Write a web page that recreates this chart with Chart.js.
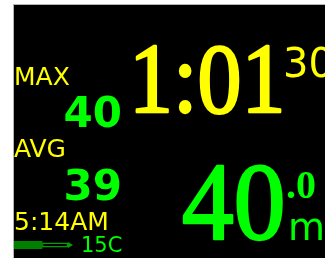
<!DOCTYPE html>
<html>
<head>
<meta charset="utf-8">
<script src="https://cdn.jsdelivr.net/npm/chart.js@4"></script>
<style>
  html, body { margin: 0; padding: 0; background: #fff; }
  canvas { display: block; }
</style>
</head>
<body>
<canvas id="dive" width="325" height="258"></canvas>
<script>
const statLabels = ['MAX', 'AVG'];
const statDepths = ['40', '39'];
const diveTime = ['1:01', '30'];
const depthNow = ['40', '.0', 'm'];
const clockText = '5:14AM';
const waterTemp = '15C';
const tankLabels = ['gas'];
const tankUsed = [52];
const tankLeft = [48];

const YELLOW = '#ffff00';
const GREEN = '#00ff00';

// big serif digits: squeezed a bit and thickened with a stroke
function bigText(c, text, x, y, sx, color) {
  c.save();
  c.translate(x, y);
  c.scale(sx, 1);
  c.fillStyle = color;
  c.strokeStyle = color;
  c.lineWidth = 2.5;
  c.lineJoin = 'round';
  c.fillText(text, 0, 0);
  c.strokeText(text, 0, 0);
  c.restore();
}

const screenPlugin = {
  id: 'screen',
  beforeDraw(chart) {
    const c = chart.ctx;
    c.save();
    c.fillStyle = '#fff';
    c.fillRect(0, 0, 325, 258);
    c.fillStyle = '#b4b4b4';
    c.fillRect(13, 4, 312, 254);
    c.fillStyle = '#000';
    c.fillRect(14, 5, 311, 253);
    c.restore();
  },
  afterDatasetsDraw(chart) {
    // arrow tip at the end of the tank gauge
    const c = chart.ctx;
    const x = chart.scales.x.getPixelForValue(100);
    const y = chart.scales.y.getPixelForValue(0);
    c.save();
    c.fillStyle = '#00a000';
    c.beginPath();
    c.moveTo(x, y - 3);
    c.lineTo(x + 5, y);
    c.lineTo(x, y + 3);
    c.closePath();
    c.fill();
    c.restore();
  },
  afterDraw(chart) {
    const c = chart.ctx;
    c.save();
    c.textBaseline = 'alphabetic';

    // left column
    c.textAlign = 'left';
    c.fillStyle = YELLOW;
    c.font = '25px "DejaVu Sans"';
    c.fillText(statLabels[0], 14, 85);
    c.fillText(statLabels[1], 14, 157);
    c.fillText(clockText, 14, 230);

    c.fillStyle = GREEN;
    c.font = 'bold 42px "DejaVu Sans"';
    c.textAlign = 'right';
    c.fillText(statDepths[0], 122, 127);
    c.fillText(statDepths[1], 122, 200);
    c.textAlign = 'left';
    c.font = '21px "DejaVu Sans"';
    c.fillText(waterTemp, 81, 252);

    // dive time
    c.font = '100px "Liberation Serif"';
    bigText(c, diveTime[0], 129, 112, 0.88, YELLOW);
    c.fillStyle = YELLOW;
    c.font = '40px "DejaVu Sans"';
    c.fillText(diveTime[1], 283, 77);

    // current depth
    c.font = '110px "Liberation Serif"';
    bigText(c, depthNow[0], 182, 239, 0.94, GREEN);
    c.fillStyle = GREEN;
    c.font = 'bold 40px "Liberation Serif"';
    c.fillText(depthNow[1], 286, 198);
    c.font = '38px "DejaVu Sans"';
    c.fillText(depthNow[2], 288, 240);

    c.restore();
  }
};

new Chart(document.getElementById('dive'), {
  type: 'bar',
  data: {
    labels: tankLabels,
    datasets: [
      {
        data: tankUsed,
        backgroundColor: '#008000',
        borderWidth: 0,
        barPercentage: 1,
        categoryPercentage: 1
      },
      {
        data: tankLeft,
        backgroundColor: '#000',
        borderColor: '#00a000',
        borderWidth: 1.5,
        borderSkipped: false,
        barPercentage: 0.6,
        categoryPercentage: 1
      }
    ]
  },
  options: {
    responsive: false,
    animation: false,
    indexAxis: 'y',
    layout: { padding: { left: 14, right: 257, top: 241, bottom: 9 } },
    plugins: { legend: { display: false }, tooltip: { enabled: false } },
    scales: {
      x: { display: false, stacked: true, min: 0, max: 100 },
      y: { display: false, stacked: true }
    }
  },
  plugins: [screenPlugin]
});
</script>
</body>
</html>
